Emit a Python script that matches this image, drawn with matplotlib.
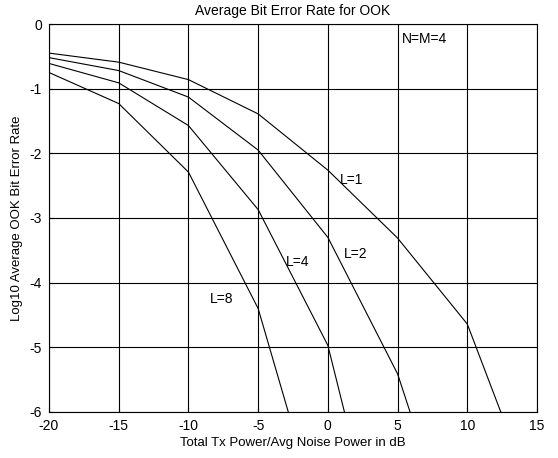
import numpy as np
import matplotlib
matplotlib.use('Agg')
import matplotlib.pyplot as plt

plt.rcParams['font.family'] = ['Liberation Sans', 'DejaVu Sans']
plt.rcParams['axes.unicode_minus'] = False

snr_db = [-20, -15, -10, -5, 0, 5, 10, 15]
ber_L1 = [-0.45, -0.59, -0.86, -1.39, -2.26, -3.31, -4.64, -7.47]
ber_L2 = [-0.52, -0.72, -1.13, -1.95, -3.30, -5.41, -8.7]
ber_L4 = [-0.61, -0.91, -1.57, -2.87, -4.97, -9.3]
ber_L8 = [-0.75, -1.23, -2.29, -4.40, -8.1]

curve_labels = ['L=1', 'L=2', 'L=4', 'L=8']
label_pos = [(0.87, -2.41), (1.16, -3.56), (-3.0, -3.68), (-8.45, -4.25)]

fig = plt.figure(figsize=(5.58, 4.58), dpi=100)
ax = fig.add_axes([49/558, 1 - 412/458, 488/558, 388/458])

for ber in [ber_L1, ber_L2, ber_L4, ber_L8]:
    ax.plot(snr_db[:len(ber)], ber, color='black', lw=0.8)

for lab, (x, y) in zip(curve_labels, label_pos):
    ax.text(x, y, lab, fontsize=10, va='center', ha='left')
ax.text(5.3, -0.23, 'N=M=4', fontsize=10, va='center', ha='left')

ax.set_xlim(-20, 15)
ax.set_ylim(-6, 0)
ax.set_xticks(np.arange(-20, 16, 5))
ax.set_yticks(np.arange(-6, 1, 1))
ax.grid(True, color='black', lw=0.8)
ax.tick_params(direction='in', labelsize=10, length=3)
ax.tick_params(axis='x', pad=5)
ax.tick_params(axis='y', pad=5)
for s in ax.spines.values():
    s.set_linewidth(0.8)

ax.set_title('Average Bit Error Rate for OOK', fontsize=10, pad=6.5)
ax.set_xlabel('Total Tx Power/Avg Noise Power in dB', fontsize=9.5, labelpad=3)
ax.set_ylabel('Log10 Average OOK Bit Error Rate', fontsize=9.5, labelpad=5)

fig.savefig('out.png', dpi=100)
